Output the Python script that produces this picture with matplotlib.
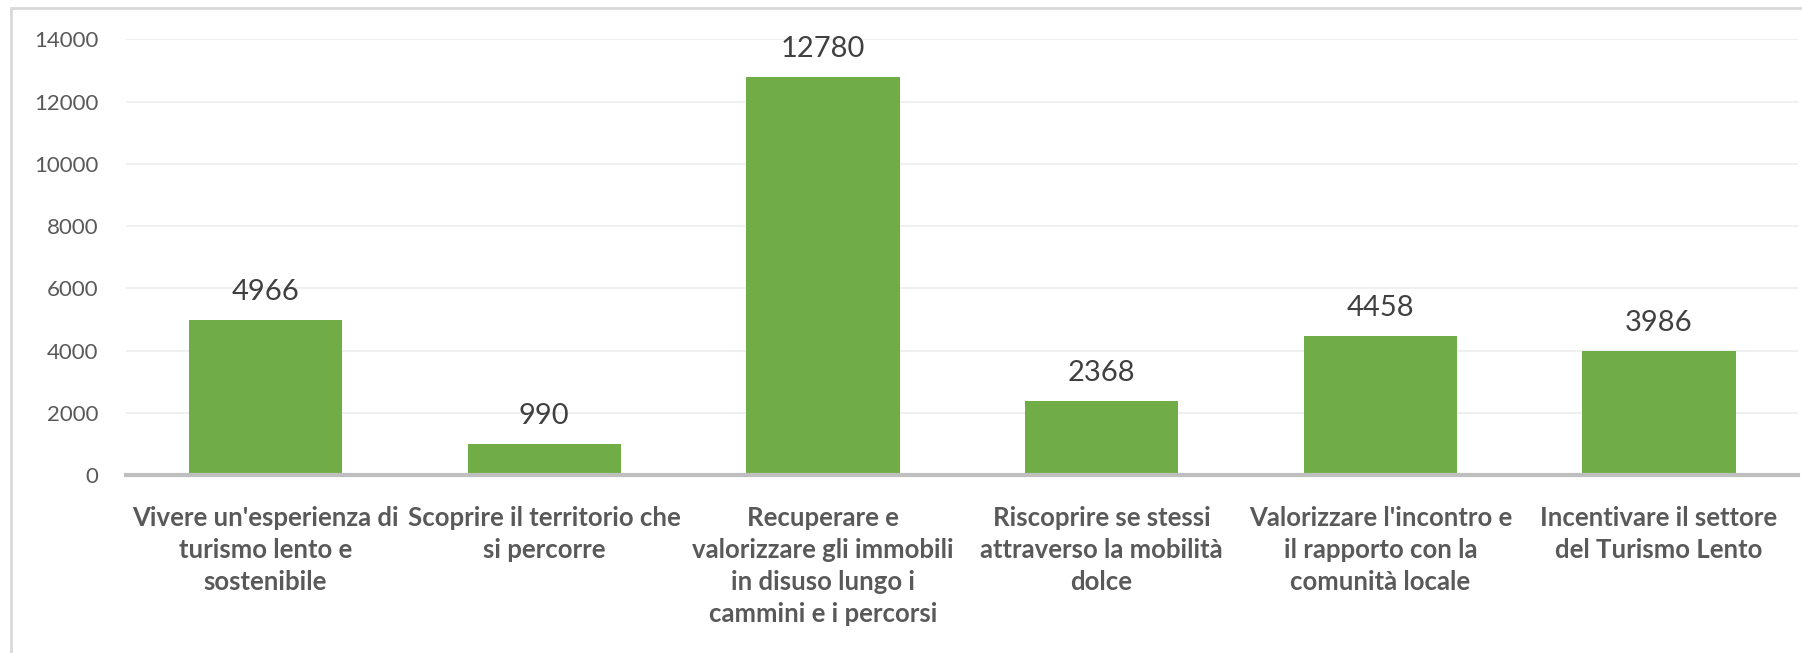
import matplotlib.pyplot as plt
from matplotlib.patches import Rectangle

# data
categories = [
    "Vivere un'esperienza di\nturismo lento e\nsostenibile",
    "Scoprire il territorio che\nsi percorre",
    "Recuperare e\nvalorizzare gli immobili\nin disuso lungo i\ncammini e i percorsi",
    "Riscoprire se stessi\nattraverso la mobilità\ndolce",
    "Valorizzare l'incontro e\nil rapporto con la\ncomunità locale",
    "Incentivare il settore\ndel Turismo Lento",
]
values = [4966, 990, 12780, 2368, 4458, 3986]
yticks = [0, 2000, 4000, 6000, 8000, 10000, 12000, 14000]

plt.rcParams['font.family'] = ['Lato', 'DejaVu Sans']
txt = '#595959'

fig = plt.figure(figsize=(18.02, 6.53), dpi=100)
ax = fig.add_axes([0.070, 0.2726, 0.928, 0.667])

x = range(len(values))
ax.bar(x, values, width=0.55, color='#70AD47', zorder=2)
for xi, v in zip(x, values):
    ax.annotate(str(v), (xi, v), xytext=(0, 11), textcoords='offset points',
                ha='center', va='bottom', fontsize=21, color='#404040')

ax.set_xlim(-0.5, len(values) - 0.5)
ax.set_ylim(0, 14000)
ax.set_yticks(yticks)
ax.set_xticks(list(x))
ax.set_xticklabels(categories, fontsize=18.5, fontweight='bold', color=txt,
                   linespacing=1.4)
ax.tick_params(axis='x', length=0, pad=22)
ax.tick_params(axis='y', length=0, labelsize=16, labelcolor=txt, pad=20)

ax.grid(axis='y', color='#EDEDED', linewidth=1.2, zorder=0)
for s in ['top', 'right', 'left']:
    ax.spines[s].set_visible(False)
ax.spines['bottom'].set_color('#BFBFBF')
ax.spines['bottom'].set_linewidth(3)
ax.spines['bottom'].set_zorder(3)

# chart frame
fig.patches.append(Rectangle((11 / 1802, -0.1), 1.2, 1 - 8 / 653 + 0.1,
                             transform=fig.transFigure, fill=False,
                             edgecolor='#D9D9D9', linewidth=2))

plt.savefig('out.png', dpi=100)
